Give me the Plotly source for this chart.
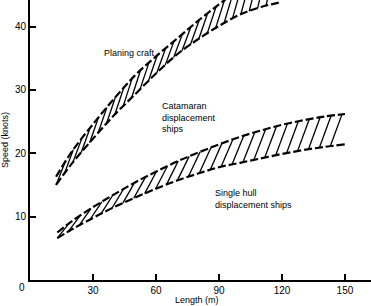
import numpy as np
import plotly.graph_objects as go

# Upper band (planing craft / catamaran displacement ships)
fast_len = [12.4, 20, 30, 40, 50, 60, 70, 80, 90, 100, 110, 120]
fast_top = [16.3, 20.3, 24.6, 28.6, 32.3, 35.3, 38.1, 40.9, 43.5, 46.0, 48.3, 50.3]
fast_bot = [15.0, 18.4, 22.3, 26.0, 29.3, 32.6, 35.6, 38.0, 40.1, 41.9, 43.1, 43.9]

# Lower band (single hull displacement ships)
hull_len = [13, 20, 30, 40, 50, 60, 70, 80, 90, 100, 110, 120, 130, 140, 150]
hull_top = [7.5, 9.3, 11.5, 13.5, 15.4, 17.1, 18.7, 20.1, 21.4, 22.6, 23.6, 24.5, 25.2, 25.8, 26.2]
hull_bot = [6.6, 8.0, 9.8, 11.5, 13.0, 14.4, 15.7, 16.8, 17.8, 18.5, 19.2, 19.9, 20.5, 21.0, 21.4]

x_ticks = [30, 60, 90, 120, 150]
y_ticks = [10, 20, 30, 40]

fig = go.Figure()


def hatch(lens, top, bot, step, shift):
    xs, ys = [], []
    x0 = lens[0]
    while x0 + shift <= lens[-1] + 1e-9:
        xs += [x0, x0 + shift, None]
        ys += [float(np.interp(x0, lens, bot)), float(np.interp(x0 + shift, lens, top)), None]
        x0 += step
    return xs, ys


for lens, top, bot, step, shift in [
    (fast_len, fast_top, fast_bot, 4.0, 4.2),
    (hull_len, hull_top, hull_bot, 5.2, 5.6),
]:
    hx, hy = hatch(lens, top, bot, step, shift)
    fig.add_trace(go.Scatter(x=hx, y=hy, mode="lines",
                             line=dict(color="black", width=1.3),
                             hoverinfo="skip", showlegend=False))
    for ys in (top, bot):
        fig.add_trace(go.Scatter(x=lens, y=ys, mode="lines",
                                 line=dict(color="black", width=2.2, dash="8px,3px", shape="spline"),
                                 showlegend=False))

font = dict(family="Liberation Sans, Arial, sans-serif", size=9, color="black")

fig.update_layout(
    width=371, height=306,
    margin=dict(l=30, r=0, t=0, b=26),
    paper_bgcolor="white", plot_bgcolor="white",
    font=font,
    xaxis=dict(range=[0, 162.4], tickvals=x_ticks, ticktext=[str(v) for v in x_ticks],
               showgrid=False, zeroline=False, showline=True, linecolor="black", linewidth=2,
               ticks="inside", ticklen=6, tickwidth=1.5, tickcolor="black",
               tickfont=dict(size=10)),
    yaxis=dict(range=[0, 44.2], tickvals=y_ticks, ticktext=[str(v) for v in y_ticks],
               showgrid=False, zeroline=False, showline=True, linecolor="black", linewidth=2,
               ticks="inside", ticklen=6, tickwidth=1.5, tickcolor="black",
               tickfont=dict(size=10)),
    annotations=[
        dict(text="Planing craft", x=34.3, y=35.9, xref="x", yref="y", xanchor="left",
             yanchor="middle", showarrow=False, font=font),
        dict(text="Catamaran<br>displacement<br>ships", x=61.9, y=25.7, xref="x", yref="y",
             xanchor="left", yanchor="middle", align="left", showarrow=False, font=font),
        dict(text="Single hull<br>displacement ships", x=87.1, y=12.8, xref="x", yref="y",
             xanchor="left", yanchor="middle", align="left", showarrow=False, font=font),
        dict(text="Length (m)", x=0.49, y=-0.071, xref="paper", yref="paper",
             xanchor="center", yanchor="middle", showarrow=False, font=font),
        dict(text="Speed (knots)", x=-0.073, y=0.5, xref="paper", yref="paper", textangle=-90,
             xanchor="center", yanchor="middle", showarrow=False, font=font),
        dict(text="0", x=-0.023, y=-0.027, xref="paper", yref="paper",
             xanchor="center", yanchor="middle", showarrow=False, font=dict(size=10, color="black",
             family="Liberation Sans, Arial, sans-serif")),
    ],
)

fig.write_html("out.html")
